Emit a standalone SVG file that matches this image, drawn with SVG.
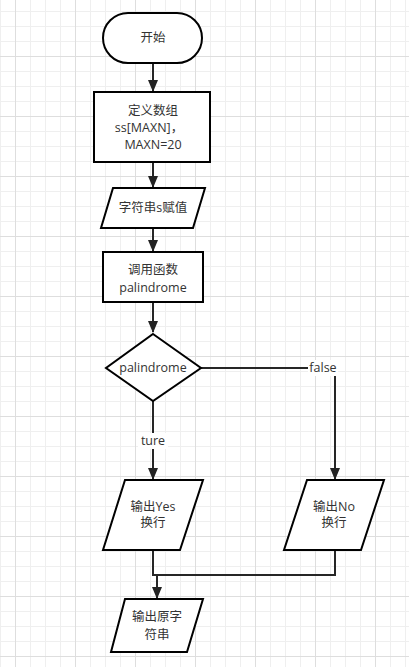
<svg xmlns="http://www.w3.org/2000/svg" width="409" height="667" viewBox="0 0 409 667">
<defs>
<pattern id="grid" patternUnits="userSpaceOnUse" x="15" y="56" width="60" height="60">
<rect x="0" y="0" width="60" height="60" fill="#ffffff"/>
<rect x="15" y="0" width="1" height="60" fill="#efefef"/>
<rect x="30" y="0" width="1" height="60" fill="#efefef"/>
<rect x="45" y="0" width="1" height="60" fill="#efefef"/>
<rect x="0" y="15" width="60" height="1" fill="#efefef"/>
<rect x="0" y="30" width="60" height="1" fill="#efefef"/>
<rect x="0" y="45" width="60" height="1" fill="#efefef"/>
<rect x="0" y="0" width="1" height="60" fill="#dedede"/>
<rect x="0" y="0" width="60" height="1" fill="#dedede"/>
</pattern>
<marker id="arr" markerUnits="userSpaceOnUse" markerWidth="12" markerHeight="12" refX="11" refY="5" orient="auto">
<path d="M0,0 L12,5 L0,10 Z" fill="#222"/>
</marker>
</defs>
<style>
.s{fill:#fff;stroke:#000;stroke-width:2}
.t{font-family:"Open Sans","Noto Sans CJK SC",sans-serif;font-size:12.5px;fill:#333;text-anchor:middle}
.c{fill:none;stroke:#262626;stroke-width:2}
</style>
<rect width="409" height="667" fill="url(#grid)"/>
<g id="connectors">
<path class="c" d="M153,63 V91" marker-end="url(#arr)"/>
<path class="c" d="M153,162 V187" marker-end="url(#arr)"/>
<path class="c" d="M153,228 V251" marker-end="url(#arr)"/>
<path class="c" d="M153,302 V332" marker-end="url(#arr)"/>
<path class="c" d="M153,400 V479" marker-end="url(#arr)"/>
<path class="c" d="M201,368 H335 V479" marker-end="url(#arr)"/>
<path class="c" d="M153,550 V575 H335 V550"/>
<path class="c" d="M157,575 V598" marker-end="url(#arr)"/>
<rect x="138" y="433" width="30" height="16" fill="#fff"/>
<text class="t" x="153" y="445">ture</text>
<rect x="308" y="360" width="30" height="16" fill="#fff"/>
<text class="t" x="323" y="372">false</text>
</g>
<g id="start">
<rect class="s" x="103" y="13" width="99" height="50" rx="25"/>
<text class="t" x="153" y="42">开始</text>
</g>
<g id="define">
<rect class="s" x="94" y="92" width="116" height="70"/>
<text class="t" x="153" y="115">定义数组</text>
<text class="t" x="149" y="132">ss[MAXN]，</text>
<text class="t" x="153" y="149">MAXN=20</text>
</g>
<g id="assign">
<polygon class="s" points="113,188 205,188 193,228 101,228"/>
<text class="t" x="153" y="212">字符串s赋值</text>
</g>
<g id="call">
<rect class="s" x="103" y="252" width="100" height="50"/>
<text class="t" x="153" y="274">调用函数</text>
<text class="t" x="153" y="292">palindrome</text>
</g>
<g id="decision">
<polygon class="s" points="153,334 201,368 153,401 106,368"/>
<text class="t" x="153" y="372">palindrome</text>
</g>
<g id="yes">
<polygon class="s" points="125,480 203,480 180,550 103,550"/>
<text class="t" x="153" y="511">输出Yes</text>
<text class="t" x="153" y="527">换行</text>
</g>
<g id="no">
<polygon class="s" points="307,480 384,480 361,550 284,550"/>
<text class="t" x="334" y="511">输出No</text>
<text class="t" x="334" y="527">换行</text>
</g>
<g id="output">
<polygon class="s" points="125,599 203,599 187,652 111,652"/>
<text class="t" x="157" y="621">输出原字</text>
<text class="t" x="157" y="639">符串</text>
</g>
</svg>
